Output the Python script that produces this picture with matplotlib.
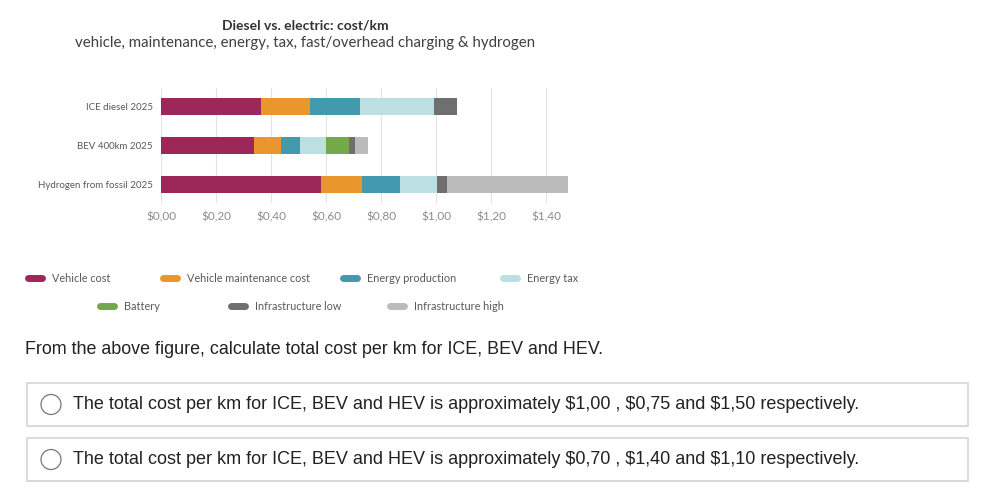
import matplotlib.pyplot as plt
from matplotlib.lines import Line2D
from matplotlib.patches import Rectangle, Circle

# data
rows = ['ICE diesel 2025', 'BEV 400km 2025', 'Hydrogen from fossil 2025']
vehicle = [0.363, 0.339, 0.582]
maintenance = [0.177, 0.097, 0.150]
energy_prod = [0.185, 0.070, 0.137]
energy_tax = [0.266, 0.094, 0.135]
battery = [0.000, 0.085, 0.000]
infra_low = [0.087, 0.020, 0.035]
infra_high = [0.000, 0.048, 0.441]
xticks = [0, 0.2, 0.4, 0.6, 0.8, 1.0, 1.2, 1.4]
xtick_labels = ['$0,00', '$0,20', '$0,40', '$0,60', '$0,80', '$1,00', '$1,20', '$1,40']

series = [
    ('Vehicle cost', vehicle, '#9b2859'),
    ('Vehicle maintenance cost', maintenance, '#e9962d'),
    ('Energy production', energy_prod, '#4399ad'),
    ('Energy tax', energy_tax, '#bcdfe1'),
    ('Battery', battery, '#74a84a'),
    ('Infrastructure low', infra_low, '#6f6f6f'),
    ('Infrastructure high', infra_high, '#bbbbbb'),
]

question = 'From the above figure, calculate total cost per km for ICE, BEV and HEV.'
options = [
    'The total cost per km for ICE, BEV and HEV is approximately $1,00 , $0,75 and $1,50 respectively.',
    'The total cost per km for ICE, BEV and HEV is approximately $0,70 , $1,40 and $1,10 respectively.',
]

plt.rcParams['text.parse_math'] = False
chart_font = 'Lato'
grey = '#595959'

fig = plt.figure(figsize=(9.82, 4.97), dpi=100)
W, H = 982, 497

def fx(px):
    return px / W

def fy(py):
    return 1 - py / H

ax = fig.add_axes([fx(161), fy(203), fx(568) - fx(161), fy(88) - fy(203)])

ypos = list(range(len(rows)))
left = [0.0] * len(rows)
for name, vals, col in series:
    ax.barh(ypos, vals, left=left, height=0.44, color=col, zorder=3)
    left = [l + v for l, v in zip(left, vals)]

ax.set_xlim(0, 1.48)
ax.set_ylim(2.48, -0.47)
ax.set_xticks(xticks)
ax.set_xticklabels(xtick_labels, family=chart_font, fontsize=8.5, color='#8c8c8c')
ax.set_yticks(ypos)
ax.set_yticklabels(rows, family=chart_font, fontsize=7, color=grey)
ax.tick_params(length=0, pad=6)
ax.tick_params(axis='x', pad=6)
ax.grid(axis='x', color='#e3e3e3', lw=0.8, zorder=0)
for s in ax.spines.values():
    s.set_visible(False)

# titles
fig.text(fx(305), fy(25), 'Diesel vs. electric: cost/km', ha='center', va='center',
         family=chart_font, fontsize=10, fontweight='bold', color='#333333')
fig.text(fx(305), fy(43), 'vehicle, maintenance, energy, tax, fast/overhead charging & hydrogen',
         ha='center', va='center', family=chart_font, fontsize=10.8, color='#404040')

# legend, two rows
legend_pos = [(25, 278), (160, 278), (340, 278), (500, 278),
              (97, 306), (228, 306), (387, 306)]
for (name, vals, col), (lx, ly) in zip(series, legend_pos):
    fig.add_artist(Line2D([fx(lx + 3), fx(lx + 17)], [fy(ly), fy(ly)], color=col, lw=5,
                          solid_capstyle='round', transform=fig.transFigure))
    fig.text(fx(lx + 27), fy(ly), name, ha='left', va='center',
             family=chart_font, fontsize=7.8, color=grey)

# question block
qfont = 'Liberation Sans'
fig.text(fx(25), fy(350), question, ha='left', va='center',
         family=qfont, fontsize=12.9, color='#222222')

box_tops = [383, 438]
for top, txt in zip(box_tops, options):
    # faint shadow then box
    fig.add_artist(Rectangle((fx(27), fy(top + 44)), fx(968) - fx(27), fy(top) - fy(top + 43),
                             transform=fig.transFigure, facecolor='#e6e6e6', edgecolor='none'))
    fig.add_artist(Rectangle((fx(27), fy(top + 43)), fx(968) - fx(27), fy(top) - fy(top + 43),
                             transform=fig.transFigure, facecolor='white',
                             edgecolor='#d6d6d6', lw=1.2))
    cy = top + 21.5
    fig.add_artist(Circle((51 / 100, (H - cy) / 100), 0.1, transform=fig.dpi_scale_trans,
                          facecolor='white', edgecolor='#777777', lw=0.9))
    fig.text(fx(73), fy(cy), txt, ha='left', va='center',
             family=qfont, fontsize=12.95, color='#222222')

fig.savefig('out.png', dpi=100)
